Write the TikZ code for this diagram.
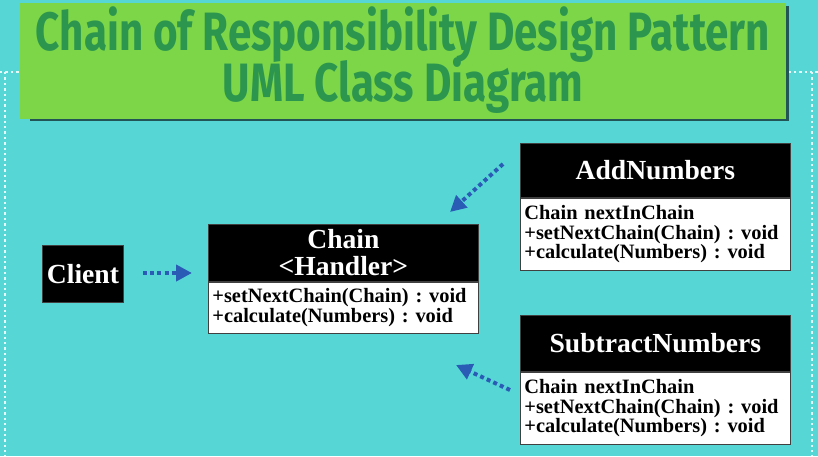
\documentclass[tikz,border=0pt]{standalone}
\usepackage{fontspec}
\setmainfont{Liberation Serif}
\newfontfamily\titlefont[FakeStretch=0.78]{Fira Sans}
\usetikzlibrary{arrows.meta, positioning}
\definecolor{pagebg}{RGB}{86,215,214}
\definecolor{bannergreen}{RGB}{124,214,72}
\definecolor{titlegreen}{RGB}{44,150,78}
\definecolor{arrowblue}{RGB}{42,92,182}

\begin{document}
\begin{tikzpicture}[
    x=0.5pt, y=-0.5pt,
    head/.style={rectangle, draw=black!75, fill=black, text=white,
                 minimum width=135pt, inner sep=0pt, align=center,
                 font=\bfseries\fontsize{13.8}{13.5}\selectfont},
    body/.style={rectangle, draw=black!75, fill=white, text=black,
                 minimum width=135pt, text width=131pt, inner xsep=2pt,
                 inner ysep=0pt, align=left,
                 font=\frenchspacing\bfseries\fontsize{10.2}{9.7}\selectfont},
    titletext/.style={text=titlegreen, inner sep=0pt, anchor=base,
                      font=\titlefont\bfseries\fontsize{27}{24}\selectfont},
    dep/.style={-{Triangle[length=8pt, width=8pt]}, arrowblue,
                line width=2pt, dash pattern=on 2pt off 1.6pt},
    frame/.style={white!85!pagebg, line width=1.2pt, dash pattern=on 1.2pt off 1.5pt},
]
  \useasboundingbox (0,0) rectangle (818,456);
  \fill[pagebg] (0,0) rectangle (818,456);
  \draw[frame] (0,72) -- (818,72);
  \draw[frame] (5,72) -- (5,456);
  \draw[frame] (812,72) -- (812,456);

  % Title banner
  \fill[black!60!pagebg] (30,6) rectangle (789,121);
  \fill[bannergreen] (20,3) rectangle (786,119);
  \node[titletext] (titleA) at (403,50) {Chain of Responsibility Design Pattern};
  \node[titletext] (titleB) at (403,101) {UML Class Diagram};

  % Client
  \node[head, minimum width=40.5pt, minimum height=28.5pt] (client) at (83,274) {Client};

  % Chain <Handler>
  \node[head, minimum height=28.5pt, anchor=north west] (chainhead) at (208,224)
    {Chain\\<Handler>};
  \node[body, minimum height=25.5pt, below=0pt of chainhead] (chainbody)
    {+setNextChain(Chain) : void\\+calculate(Numbers) : void};

  % AddNumbers
  \node[head, minimum height=27pt, anchor=north west] (addhead) at (520,143) {AddNumbers};
  \node[body, minimum height=36pt, below=0pt of addhead] (addbody)
    {Chain nextInChain\\+setNextChain(Chain) : void\\+calculate(Numbers) : void};

  % SubtractNumbers
  \node[head, minimum height=28pt, anchor=north west] (subhead) at (520,315) {SubtractNumbers};
  \node[body, minimum height=36pt, below=0pt of subhead] (subbody)
    {Chain nextInChain\\+setNextChain(Chain) : void\\+calculate(Numbers) : void};

  % arrow ends
  \coordinate (clientout) at (143,273);
  \coordinate (chainin) at (192,273);
  \coordinate (addout) at (503,164);
  \coordinate (addtip) at (450,212);
  \coordinate (subout) at (510,390);
  \coordinate (subtip) at (456,365);

  \draw[dep] (clientout) -- (chainin);
  \draw[dep] (addout) -- (addtip);
  \draw[dep] (subout) -- (subtip);

\end{tikzpicture}
\end{document}
